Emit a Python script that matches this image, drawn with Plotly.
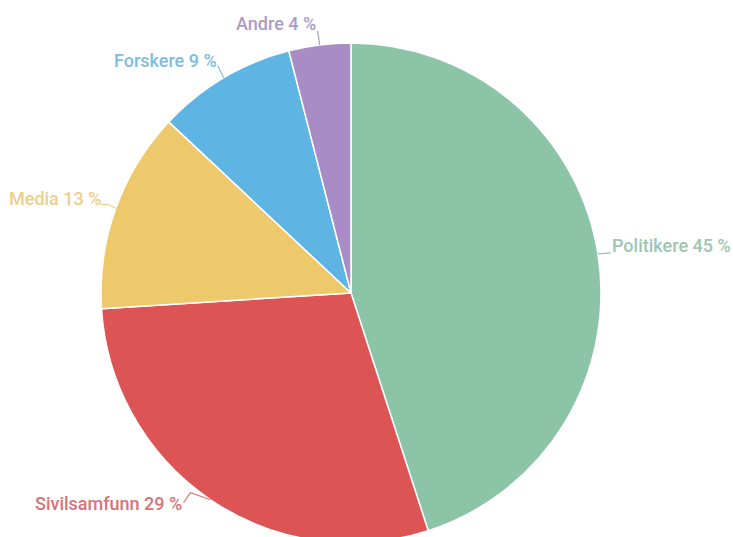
import math
import plotly.graph_objects as go

# Share of actors (per cent)
labels = ["Politikere", "Sivilsamfunn", "Media", "Forskere", "Andre"]
values = [45, 29, 13, 9, 4]
slice_colors = ["#8CC4A8", "#DC5554", "#EDC96B", "#5EB4E3", "#A98BC6"]
label_colors = ["#9DC5B1", "#D5737A", "#EBCF8A", "#7DBCDF", "#A99CC6"]

# Canvas and pie geometry (pixels)
W, H = 733, 545
CX, CY, R = 351, 293, 250

# Label offsets from the slice rim point, and connector bends (pixels)
label_offsets = [(13, -8, "left"), (-27, 4, "right"), (-14, -10, "right"),
                 (-6, -17, "right"), (-3, -21, "right")]
connector_bends = [[(13, -1)], [(-20, -7), (-27, 3)], [(-8, -4), (-15, -4)],
                   [(-6, -12)], [(-2, -14)]]


def px(x, y):
    return x / W, 1 - y / H


fig = go.Figure(go.Pie(
    labels=labels,
    values=values,
    sort=False,
    direction="clockwise",
    rotation=0,
    marker=dict(colors=slice_colors, line=dict(color="white", width=1.5)),
    textinfo="none",
    hoverinfo="label+percent",
    showlegend=False,
    domain=dict(x=[(CX - R) / W, (CX + R) / W],
                y=[(H - (CY + R)) / H, (H - (CY - R)) / H]),
))

total = sum(values)
cum = 0
shapes, annotations = [], []
for i, (lab, v) in enumerate(zip(labels, values)):
    theta = 2 * math.pi * (cum + v / 2) / total
    cum += v
    ex = CX + R * math.sin(theta)
    ey = CY - R * math.cos(theta)
    pts = [(ex, ey)] + [(ex + dx, ey + dy) for dx, dy in connector_bends[i]]
    path = "M " + " L ".join(f"{px(x, y)[0]:.5f},{px(x, y)[1]:.5f}" for x, y in pts)
    shapes.append(dict(type="path", path=path, xref="paper", yref="paper",
                       line=dict(color=label_colors[i], width=1.2)))
    dx, dy, anchor = label_offsets[i]
    tx, ty = px(ex + dx, ey + dy)
    annotations.append(dict(
        x=tx, y=ty, xref="paper", yref="paper",
        text=f"{lab} {round(100 * v / total)} %",
        showarrow=False, xanchor=anchor, yanchor="middle",
        xshift=0, yshift=0, borderpad=0,
        font=dict(family="Roboto", size=18, color=label_colors[i], weight=500),
    ))

fig.update_layout(
    width=W, height=H,
    margin=dict(l=0, r=0, t=0, b=0),
    paper_bgcolor="white",
    plot_bgcolor="white",
    shapes=shapes,
    annotations=annotations,
)

fig.write_html("out.html", post_script="document.body.style.overflow='hidden';")
